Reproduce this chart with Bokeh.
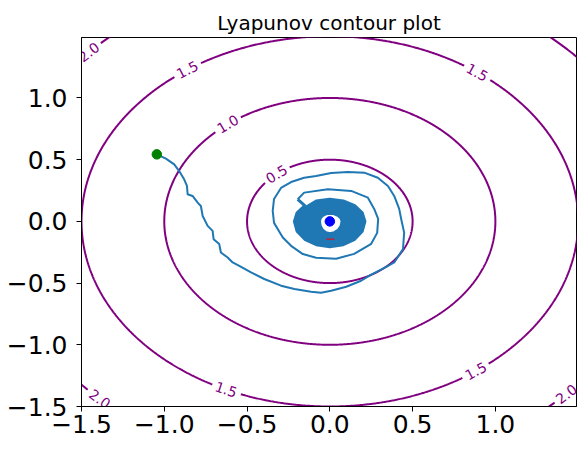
import numpy as np
from bokeh.plotting import figure
from bokeh.models import Range1d, FixedTicker
from bokeh.embed import file_html
from bokeh.resources import INLINE
from bokeh.core.properties import value

# ---------------- data ----------------
levels = [0.5, 1.0, 1.5, 2.0]
level_labels = ["0.5", "1.0", "1.5", "2.0"]
# angular positions (deg) of the inline contour labels on each level
label_angles = [[130.0], [128.0], [125.0, 53.6, -114.7, -54.0], [136.7, -134.0, -44.4]]

# outer part of the trajectory
traj_outer_x = [-1.045, -0.990, -0.940, -0.910, -0.880, -0.863, -0.859, -0.829, -0.797, -0.779,
                -0.768, -0.738, -0.708, -0.702, -0.668, -0.658, -0.617, -0.587, -0.547, -0.476,
                -0.396, -0.295, -0.214, -0.113, -0.053, 0.008, 0.099, 0.189, 0.250, 0.341,
                0.389, 0.442, 0.449, 0.431, 0.419, 0.389, 0.351, 0.290, 0.208, 0.109,
                0.008, -0.083, -0.155, -0.234, -0.295, -0.337, -0.345, -0.337, -0.284, -0.234,
                -0.163, -0.083, 0.038, 0.147, 0.250, 0.286, 0.292, 0.268, 0.230, 0.129,
                -0.012, -0.155, -0.194]
traj_outer_y = [0.543, 0.508, 0.462, 0.408, 0.341, 0.287, 0.220, 0.206, 0.150, 0.125,
                0.044, -0.036, -0.077, -0.144, -0.184, -0.252, -0.293, -0.333, -0.360, -0.414,
                -0.467, -0.521, -0.548, -0.570, -0.578, -0.562, -0.530, -0.481, -0.432, -0.368,
                -0.333, -0.225, -0.091, 0.020, 0.101, 0.206, 0.287, 0.354, 0.395, 0.400,
                0.392, 0.368, 0.354, 0.319, 0.271, 0.182, 0.085, -0.012, -0.131, -0.198,
                -0.265, -0.295, -0.303, -0.263, -0.182, -0.093, 0.020, 0.101, 0.192, 0.247,
                0.260, 0.233, 0.179]

# dense inner part of the trajectory (tight loops around the equilibrium)
traj_inner_x = [
    -0.194,
    -0.151, -0.198, -0.214, -0.198, -0.151, -0.082, 0.000, 0.081, 0.150, 0.196, 0.212, 0.196, 0.150, 0.081, 0.000, -0.082,
    -0.139, -0.182, -0.197, -0.182, -0.139, -0.075, 0.000, 0.075, 0.139, 0.182, 0.197, 0.182, 0.139, 0.075, 0.000, -0.075,
    -0.127, -0.166, -0.180, -0.166, -0.127, -0.069, 0.000, 0.069, 0.128, 0.167, 0.181, 0.167, 0.128, 0.069, 0.000, -0.069,
    -0.116, -0.152, -0.164, -0.152, -0.116, -0.063, 0.000, 0.064, 0.117, 0.153, 0.166, 0.153, 0.117, 0.064, 0.000, -0.063,
    -0.104, -0.136, -0.147, -0.136, -0.104, -0.056, 0.000, 0.058, 0.107, 0.140, 0.151, 0.140, 0.107, 0.058, 0.000, -0.056,
    -0.092, -0.120, -0.130, -0.120, -0.092, -0.050, 0.000, 0.052, 0.095, 0.125, 0.135, 0.125, 0.095, 0.052, 0.000, -0.050,
    -0.080, -0.104, -0.113, -0.104, -0.080, -0.043, 0.000, 0.046, 0.085, 0.111, 0.120, 0.111, 0.085, 0.046, 0.000, -0.043,
    -0.069, -0.090, -0.097, -0.090, -0.069, -0.037, 0.000, 0.040, 0.074, 0.097, 0.105, 0.097, 0.074, 0.040, 0.000, -0.037,
    -0.057, -0.074, -0.080, -0.074, -0.057, -0.031, 0.000, 0.034, 0.063, 0.082, 0.089, 0.082, 0.063, 0.034, 0.000, -0.031,
    -0.045, -0.058, -0.063, -0.058, -0.045, -0.024, 0.000, 0.028, 0.052, 0.068, 0.074, 0.068, 0.052, 0.028, 0.000, -0.024,
    -0.045]
traj_inner_y = [
    0.179,
    0.127, 0.069, 0.000, -0.079, -0.145, -0.189, -0.205, -0.189, -0.145, -0.079, 0.000, 0.069, 0.127, 0.166, 0.180, 0.166,
    0.118, 0.064, 0.000, -0.074, -0.136, -0.178, -0.193, -0.178, -0.136, -0.074, 0.000, 0.064, 0.118, 0.154, 0.167, 0.154,
    0.110, 0.059, 0.000, -0.069, -0.128, -0.167, -0.181, -0.167, -0.128, -0.069, 0.000, 0.059, 0.110, 0.143, 0.155, 0.143,
    0.100, 0.054, 0.000, -0.065, -0.120, -0.157, -0.170, -0.157, -0.120, -0.065, 0.000, 0.054, 0.100, 0.131, 0.142, 0.131,
    0.091, 0.049, 0.000, -0.061, -0.112, -0.146, -0.158, -0.146, -0.112, -0.061, 0.000, 0.049, 0.091, 0.119, 0.129, 0.119,
    0.083, 0.045, 0.000, -0.056, -0.103, -0.135, -0.146, -0.135, -0.103, -0.056, 0.000, 0.045, 0.083, 0.108, 0.117, 0.108,
    0.074, 0.040, 0.000, -0.051, -0.095, -0.124, -0.134, -0.124, -0.095, -0.051, 0.000, 0.040, 0.074, 0.096, 0.104, 0.096,
    0.065, 0.035, 0.000, -0.047, -0.087, -0.114, -0.123, -0.114, -0.087, -0.047, 0.000, 0.035, 0.065, 0.085, 0.092, 0.085,
    0.056, 0.030, 0.000, -0.043, -0.078, -0.103, -0.111, -0.103, -0.078, -0.043, 0.000, 0.030, 0.056, 0.073, 0.079, 0.073,
    0.047, 0.025, 0.000, -0.038, -0.070, -0.091, -0.099, -0.091, -0.070, -0.038, 0.000, 0.025, 0.047, 0.061, 0.066, 0.061,
    0.047]

start_x, start_y = [-1.045], [0.543]
eq_x, eq_y = [0.0], [0.0]
red_x, red_y = [-0.022, 0.028], [-0.144, -0.144]

ticks = [-1.5, -1.0, -0.5, 0.0, 0.5, 1.0]
tick_labels = ["\u22121.5", "\u22121.0", "\u22120.5", "0.0", "0.5", "1.0"]

# ---------------- figure ----------------
W, H = 586, 450
BL, BR, BT, BB = 81, 10, 37, 44
X0, X1, Y0, Y1 = -1.5, 1.49, -1.5, 1.49
FONT = "DejaVu Sans"

p = figure(width=W, height=H, x_range=Range1d(X0, X1), y_range=Range1d(Y0, Y1),
           output_backend="svg", toolbar_location=None,
           min_border_left=BL, min_border_right=BR, min_border_top=BT, min_border_bottom=BB,
           title="Lyapunov contour plot")
p.title.align = "center"
p.title.text_font = FONT
p.title.text_font_size = "20px"
p.title.text_font_style = "normal"
p.title.text_color = "black"
p.title.standoff = 6
p.grid.visible = False
p.outline_line_color = "black"
p.outline_line_width = 1
p.background_fill_color = "white"
p.border_fill_color = "white"

for ax in (p.xaxis[0], p.yaxis[0]):
    ax.ticker = FixedTicker(ticks=ticks)
    ax.major_label_overrides = {t: s for t, s in zip(ticks, tick_labels)}
    ax.major_label_text_font = FONT
    ax.major_label_text_font_size = "25px"
    ax.major_label_text_color = "black"
    ax.major_tick_out = 5
    ax.major_tick_in = 0
    ax.minor_tick_out = 0
    ax.minor_tick_in = 0
    ax.axis_line_color = "black"
    ax.major_tick_line_color = "black"
p.xaxis[0].major_label_standoff = 3
p.yaxis[0].major_label_standoff = 9

fw, fh = W - BL - BR, H - BT - BB
sx, sy = fw / (X1 - X0), fh / (Y1 - Y0)
PURPLE = "#800080"
GAP = 14.5

th = np.linspace(0, 2 * np.pi, 1441)
lab_x, lab_y, lab_t, lab_a = [], [], [], []
for lev, txt, angs in zip(levels, level_labels, label_angles):
    cx = lev * np.cos(th)
    cy = lev * np.sin(th)
    mask = np.zeros_like(th, dtype=bool)
    for a in angs:
        ar = np.deg2rad(a)
        lx, ly = lev * np.cos(ar), lev * np.sin(ar)
        d = np.hypot((cx - lx) * sx, (cy - ly) * sy)
        mask |= d < GAP
        rot = np.arctan2(np.cos(ar) * sy, -np.sin(ar) * sx)
        if rot > np.pi / 2:
            rot -= np.pi
        if rot < -np.pi / 2:
            rot += np.pi
        lab_x.append(lx); lab_y.append(ly); lab_t.append(txt); lab_a.append(rot)
    cx = np.where(mask, np.nan, cx)
    cy = np.where(mask, np.nan, cy)
    p.line(cx, cy, line_color=PURPLE, line_width=2)

p.text(x=lab_x, y=lab_y, text=lab_t, angle=lab_a, text_font=value(FONT),
       text_font_size="14px", text_color=PURPLE, text_align="center", text_baseline="middle")

BLUE = "#1f77b4"
p.line(traj_outer_x, traj_outer_y, line_color=BLUE, line_width=2, line_join="round")
p.line(traj_inner_x, traj_inner_y, line_color=BLUE, line_width=3, line_join="round")
p.line(red_x, red_y, line_color="red", line_width=1)
p.scatter(start_x, start_y, size=9.5, color="green")
p.scatter(eq_x, eq_y, size=9.5, color="blue")

open("out.html", "w").write(file_html(p, INLINE))
